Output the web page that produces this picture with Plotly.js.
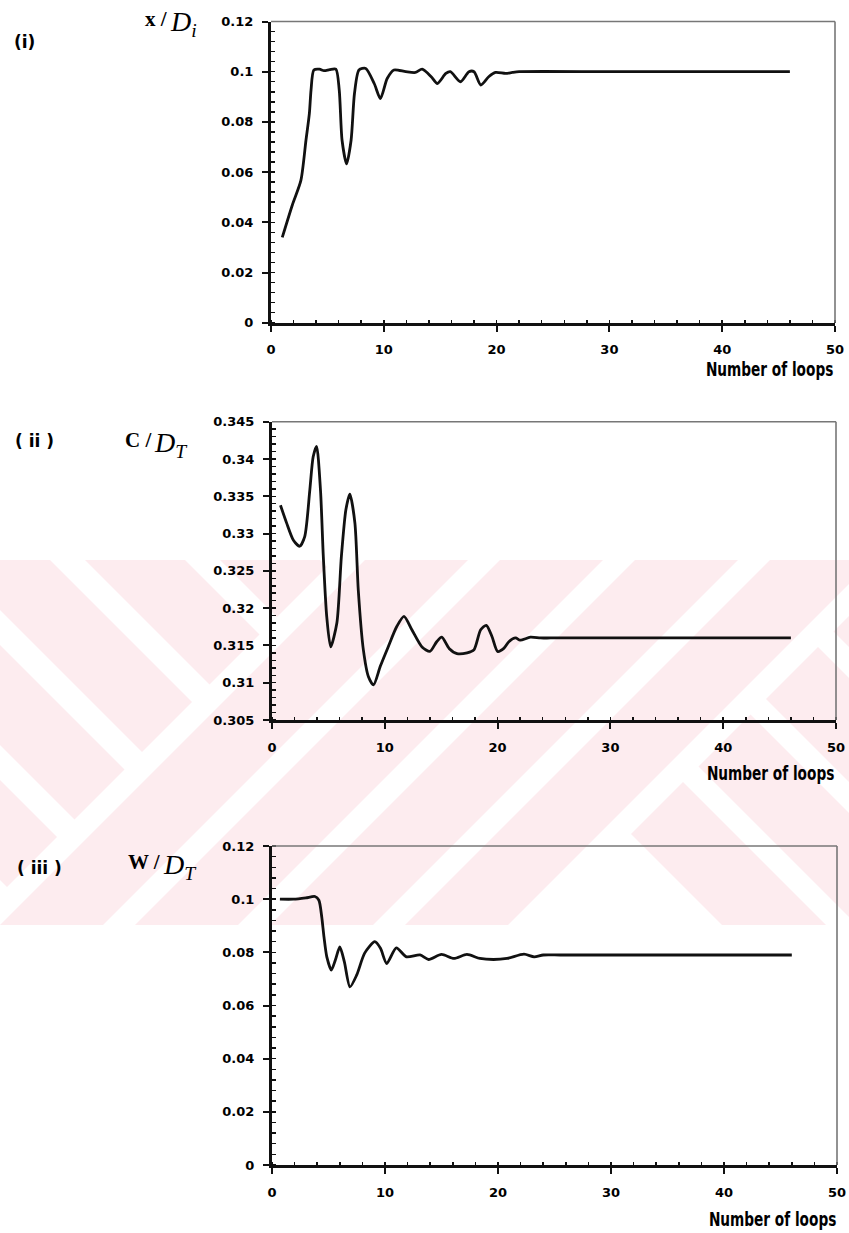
<!DOCTYPE html>
<html>
<head>
<meta charset="utf-8">
<script src="https://cdn.plot.ly/plotly-3.0.1.min.js"></script>
<style>html,body{margin:0;padding:0;background:#fff;}#chart{width:849px;height:1233px;}</style>
</head>
<body>
<div id="chart"></div>
<script>
// ---------- data ----------
const loops1 = [1, 1.9, 2.65, 3.1, 3.4, 3.55, 3.8, 4.3, 4.7, 5.2, 5.75, 6.05, 6.3, 6.7, 7.1, 7.4, 7.8, 8.4, 9.15, 9.7, 10.3, 10.9, 11.95, 12.8, 13.4, 14.2, 14.75, 15.5, 15.9, 16.8, 17.55, 18.0, 18.6, 19.3, 19.9, 20.8, 21.4, 22, 30, 40, 46];
const xOverDi = [0.034, 0.047, 0.0567, 0.0727, 0.0833, 0.0927, 0.1007, 0.1010, 0.1004, 0.1008, 0.101, 0.0927, 0.0727, 0.0633, 0.0727, 0.0913, 0.1007, 0.1013, 0.0953, 0.0893, 0.0973, 0.1007, 0.1, 0.0997, 0.101, 0.098, 0.0953, 0.0993, 0.1, 0.096, 0.1, 0.1, 0.0947, 0.098, 0.0997, 0.0993, 0.0997, 0.1, 0.1, 0.1, 0.1];

const loops2 = [0.75, 1.3, 1.9, 2.45, 2.9, 3.35, 3.65, 3.95, 4.3, 4.55, 4.85, 5.2, 5.75, 6.15, 6.55, 6.9, 7.35, 7.65, 8.1, 8.55, 9.0, 9.6, 10.3, 11.05, 11.7, 12.4, 13.3, 14.0, 14.6, 15.05, 15.7, 16.4, 17.3, 17.9, 18.5, 19.0, 19.5, 20.0, 20.55, 21.0, 21.6, 22.0, 22.9, 23.8, 24.7, 30, 40, 46];
const cOverDT = [0.3338, 0.3314, 0.3291, 0.3283, 0.3296, 0.3358, 0.3403, 0.3417, 0.3358, 0.3269, 0.3189, 0.3148, 0.318, 0.3269, 0.3332, 0.3353, 0.3314, 0.3224, 0.3144, 0.3108, 0.3097, 0.3122, 0.3148, 0.3175, 0.3189, 0.3171, 0.3148, 0.3142, 0.3155, 0.3161, 0.3146, 0.3139, 0.314, 0.3144, 0.3171, 0.3177, 0.3162, 0.3142, 0.3146, 0.3155, 0.316, 0.3157, 0.3161, 0.316, 0.316, 0.316, 0.316, 0.316];

const loops3 = [0.7, 1.9, 3.0, 3.8, 4.15, 4.4, 4.6, 4.85, 5.25, 5.6, 6.0, 6.4, 6.9, 7.5, 8.2, 9.1, 9.6, 10.15, 11.0, 11.9, 13.1, 13.85, 15.0, 16.1, 17.25, 18.4, 19.6, 20.8, 22.3, 23.2, 24.0, 25.5, 30, 40, 46];
const wOverDT = [0.1, 0.1, 0.1005, 0.101, 0.0996, 0.0934, 0.0858, 0.0783, 0.0733, 0.077, 0.082, 0.0765, 0.067, 0.0715, 0.0797, 0.084, 0.0815, 0.0758, 0.0817, 0.0783, 0.079, 0.0773, 0.0792, 0.0777, 0.0792, 0.0777, 0.0773, 0.0777, 0.0793, 0.0783, 0.079, 0.079, 0.079, 0.079, 0.079];

const xTickVals = [0, 10, 20, 30, 40, 50];
const xTickText = ["0", "10", "20", "30", "40", "50"];
const panelLabels = ["(i)", "( ii )", "( iii )"];
const yTitleLhs = ["x /", "C /", "W /"];
const yTitleSub = ["i", "T", "T"];
const xTitle = "Number of loops";

// ---------- page geometry ----------
const W = 849, H = 1233;
const px = v => v / W;
const py = v => 1 - v / H;

// ---------- faint watermark (decoration) ----------
function clip(pts, a, b, c) {
  const out = [];
  const n = pts.length;
  for (let i = 0; i < n; i++) {
    const cur = pts[i], prev = pts[(i - 1 + n) % n];
    const ci = a * cur[0] + b * cur[1] <= c;
    const pi = a * prev[0] + b * prev[1] <= c;
    const inter = () => {
      const t = (c - (a * prev[0] + b * prev[1])) / (a * (cur[0] - prev[0]) + b * (cur[1] - prev[1]));
      return [prev[0] + t * (cur[0] - prev[0]), prev[1] + t * (cur[1] - prev[1])];
    };
    if (ci) { if (!pi) out.push(inter()); out.push(cur); }
    else if (pi) out.push(inter());
  }
  return out;
}
const pink = '#fdecef';
const wmShapes = [];
function addPoly(p) {
  if (p.length < 3) return;
  const d = p.map((q, i) => (i ? 'L' : 'M') + px(q[0]).toFixed(5) + ',' + py(q[1]).toFixed(5)).join(' ') + ' Z';
  wmShapes.push({type: 'path', xref: 'paper', yref: 'paper', path: d, fillcolor: pink, line: {width: 0}, layer: 'below'});
}
const box = [[0, 560], [W, 560], [W, 925], [0, 925]];
for (let lo = -475 - 135 * 6; lo < 900; lo += 135) {
  let p = clip(box, 1, 1, 894);
  p = clip(p, -1, 1, -lo); p = clip(p, 1, -1, lo + 100);
  addPoly(p);
}
for (let lo = 925; lo < 1433; lo += 135) {
  let p = clip(box, -1, -1, -lo); p = clip(p, 1, 1, Math.min(lo + 103, 1433));
  addPoly(p);
}
for (let lo = -203; lo < 900; lo += 135) {
  let p = clip(box, -1, -1, -1465);
  p = clip(p, -1, 1, -lo); p = clip(p, 1, -1, lo + 104);
  addPoly(p);
}

// ---------- styles ----------
const tickFont = {family: 'DejaVu Sans, sans-serif', size: 13, weight: 'bold', color: '#000'};
const titleFont = {family: 'DejaVu Sans Condensed, Liberation Sans Narrow, sans-serif', size: 19, weight: 'bold', color: '#000'};
const lineStyle = {color: '#111', width: 2.8, shape: 'spline', smoothing: 0.7};

function xAx(x0, x1, anchor) {
  return {
    domain: [px(x0), px(x1)], anchor: anchor, range: [0, 50],
    tickmode: 'array', tickvals: xTickVals, ticktext: xTickText,
    ticks: 'outside', ticklen: 6, tickwidth: 2, tickcolor: '#111',
    minor: {dtick: 2, tick0: 0, ticks: 'inside', ticklen: 3, tickwidth: 1.5, tickcolor: '#111'},
    showline: true, linewidth: 3, linecolor: '#111', showgrid: false, zeroline: false,
    tickfont: tickFont, ticklabelstandoff: 7, fixedrange: true
  };
}
function yAx(y0, y1, anchor, range, dtick, minorDtick) {
  return {
    domain: [py(y1), py(y0)], anchor: anchor, range: range, dtick: dtick, tick0: range[0],
    ticks: 'outside', ticklen: 6, tickwidth: 2, tickcolor: '#111',
    minor: {dtick: minorDtick, ticks: 'inside', ticklen: 4, tickwidth: 1.5, tickcolor: '#111'},
    showline: true, linewidth: 3, linecolor: '#111', showgrid: false, zeroline: false,
    tickfont: tickFont, ticklabelstandoff: 6, fixedrange: true
  };
}
function frame(xa, ya) {
  return [
    {type: 'line', xref: xa + ' domain', yref: ya + ' domain', x0: 0, x1: 1, y0: 1, y1: 1, line: {color: '#777', width: 1.6}},
    {type: 'line', xref: xa + ' domain', yref: ya + ' domain', x0: 1, x1: 1, y0: 0, y1: 1, line: {color: '#777', width: 1.6}}
  ];
}

const traces = [
  {type: 'scatter', mode: 'lines', x: loops1, y: xOverDi, xaxis: 'x', yaxis: 'y', line: lineStyle, hoverinfo: 'skip'},
  {type: 'scatter', mode: 'lines', x: loops2, y: cOverDT, xaxis: 'x2', yaxis: 'y2', line: lineStyle, hoverinfo: 'skip'},
  {type: 'scatter', mode: 'lines', x: loops3, y: wOverDT, xaxis: 'x3', yaxis: 'y3', line: lineStyle, hoverinfo: 'skip'}
];

const lhsFont = {family: 'Liberation Serif, serif', size: 21, weight: 'bold', color: '#000'};
const dFont = {family: 'Liberation Serif, serif', size: 28, style: 'italic', color: '#000'};
const labFont = {family: 'DejaVu Sans, sans-serif', size: 17, weight: 'bold', color: '#000'};
const annotations = [
  {text: panelLabels[0], x: px(12), y: py(42), xanchor: 'left', yanchor: 'middle', font: labFont},
  {text: panelLabels[1], x: px(13), y: py(441), xanchor: 'left', yanchor: 'middle', font: labFont},
  {text: panelLabels[2], x: px(15), y: py(868), xanchor: 'left', yanchor: 'middle', font: labFont},
  {text: yTitleLhs[0], x: px(143), y: py(19), xanchor: 'left', yanchor: 'middle', font: lhsFont},
  {text: yTitleLhs[1], x: px(123), y: py(440), xanchor: 'left', yanchor: 'middle', font: lhsFont},
  {text: yTitleLhs[2], x: px(126), y: py(862), xanchor: 'left', yanchor: 'middle', font: lhsFont},
  {text: 'D<sub>' + yTitleSub[0] + '</sub>', x: px(168), y: py(23), xanchor: 'left', yanchor: 'middle', font: dFont},
  {text: 'D<sub>' + yTitleSub[1] + '</sub>', x: px(152), y: py(444), xanchor: 'left', yanchor: 'middle', font: dFont},
  {text: 'D<sub>' + yTitleSub[2] + '</sub>', x: px(161), y: py(866), xanchor: 'left', yanchor: 'middle', font: dFont},
  {text: xTitle, x: px(835), y: py(369), xanchor: 'right', yanchor: 'middle', font: titleFont, name: 'xt'},
  {text: xTitle, x: px(836), y: py(773), xanchor: 'right', yanchor: 'middle', font: titleFont, name: 'xt'},
  {text: xTitle, x: px(838), y: py(1219), xanchor: 'right', yanchor: 'middle', font: titleFont, name: 'xt'}
].map(a => Object.assign({xref: 'paper', yref: 'paper', showarrow: false}, a));

const layout = {
  width: W, height: H, margin: {l: 0, r: 0, t: 0, b: 0},
  paper_bgcolor: '#ffffff', plot_bgcolor: 'rgba(0,0,0,0)', showlegend: false,
  xaxis: xAx(271, 835, 'y'),
  yaxis: yAx(21.5, 322.7, 'x', [0, 0.12], 0.02, 0.004),
  xaxis2: xAx(272, 836, 'y2'),
  yaxis2: yAx(421.7, 720, 'x2', [0.305, 0.345], 0.005, 0.001),
  xaxis3: xAx(272, 837, 'y3'),
  yaxis3: yAx(846, 1165, 'x3', [0, 0.12], 0.02, 0.004),
  shapes: wmShapes.concat(frame('x', 'y'), frame('x2', 'y2'), frame('x3', 'y3')),
  annotations: annotations
};

Plotly.newPlot('chart', traces, layout, {staticPlot: true, displayModeBar: false}).then(gd => {
  // condense the x-axis title text like the reference's narrow bold face
  gd.querySelectorAll('.annotation-text').forEach(t => {
    if (t.textContent === xTitle) {
      t.style.transformBox = 'fill-box';
      t.style.transformOrigin = 'right center';
      t.style.transform = 'scaleX(0.8)';
    }
  });
});
</script>
</body>
</html>
